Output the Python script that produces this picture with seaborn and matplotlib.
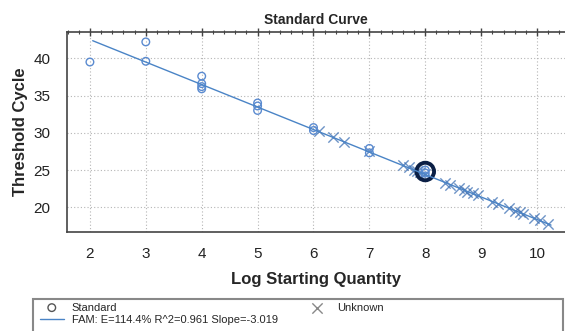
import numpy as np
import pandas as pd
import matplotlib
matplotlib.use("Agg")
import matplotlib.pyplot as plt
from matplotlib.patches import Rectangle
from matplotlib.ticker import MultipleLocator
import seaborn as sns

# standards (open circles)
std_x = [2, 3, 3, 4, 4, 4, 4, 5, 5, 5, 6, 6, 7, 7, 8, 8, 8]
std_y = [39.5, 42.2, 39.6, 37.6, 36.6, 36.2, 35.9, 34.0, 33.6, 33.0,
         30.7, 30.3, 27.9, 27.3, 25.0, 24.6, 24.2]

# unknowns (crosses)
unk_x = [6.1, 6.35, 6.55, 7.0, 7.6, 7.7, 7.8, 7.85, 7.9, 8.0, 8.35, 8.45,
         8.6, 8.7, 8.75, 8.85, 8.95, 9.2, 9.3, 9.5, 9.6, 9.7, 9.75, 9.95,
         10.05, 10.2]
unk_y = [30.2, 29.4, 28.8, 27.5, 25.7, 25.4, 25.0, 24.9, 24.7, 24.4, 23.2,
         23.0, 22.6, 22.3, 22.1, 21.9, 21.6, 20.7, 20.5, 19.9, 19.5, 19.3,
         19.1, 18.5, 18.3, 17.8]

# selected well
sel_x = [8.0]
sel_y = [24.8]

# fit
slope = -3.019
intercept = 48.55
fit_x = np.array([2.05, 10.25])
fit_label = "FAM: E=114.4% R^2=0.961 Slope=-3.019"

sns.set_style("white")
plt.rcParams["font.family"] = ["Liberation Sans", "DejaVu Sans"]

W, H = 565, 331
fig = plt.figure(figsize=(W / 100, H / 100), dpi=100)
ax = fig.add_axes([67 / W, 1 - 232 / H, (W - 67) / W, 200 / H])

blue = "#5b8bd0"
line_blue = "#4a84c6"

fit_df = pd.DataFrame({"x": fit_x, "y": intercept + slope * fit_x})
sns.lineplot(data=fit_df, x="x", y="y", ax=ax, color=line_blue, lw=1.0,
             label=fit_label)
sns.scatterplot(x=unk_x, y=unk_y, ax=ax, marker="x", color="#3c6fb4",
                s=55, linewidth=1.0, alpha=0.75, label="Unknown")
sns.scatterplot(x=std_x, y=std_y, ax=ax, marker="o", facecolor="none",
                edgecolor=blue, s=30, linewidth=1.0, label="Standard")
sns.scatterplot(x=sel_x, y=sel_y, ax=ax, marker="o", facecolor="none",
                edgecolor="#0b1f45", s=160, linewidth=2.8, legend=False)

ax.set_xlim(1.59, 10.5)
ax.set_ylim(16.68, 43.53)
ax.xaxis.set_major_locator(MultipleLocator(1))
ax.xaxis.set_minor_locator(MultipleLocator(0.2))
ax.yaxis.set_major_locator(MultipleLocator(5))
ax.yaxis.set_minor_locator(MultipleLocator(1))
ax.grid(True, which="major", color="#b5b5b5", linestyle=(0, (1, 2)), lw=0.8)
ax.tick_params(which="major", direction="inout", length=6, width=1,
               color="#444444", labelsize=11, labelcolor="#222222", top=True)
ax.tick_params(which="minor", direction="inout", length=3, width=0.8,
               color="#444444", top=True)
ax.tick_params(axis="x", which="major", pad=7.5)
ax.tick_params(axis="y", which="major", pad=9)
for side in ["left", "bottom", "top"]:
    ax.spines[side].set_color("#444444")
    ax.spines[side].set_linewidth(1.2)
ax.spines["right"].set_visible(False)

ax.set_title("Standard Curve", fontsize=10, fontweight="bold", pad=6)
ax.set_xlabel("Log Starting Quantity", fontsize=12, fontweight="bold",
              labelpad=8)
ax.set_ylabel("Threshold Cycle", fontsize=12, fontweight="bold", labelpad=4)

handles, labels = ax.get_legend_handles_labels()
if ax.get_legend():
    ax.get_legend().remove()
lookup = dict(zip(labels, handles))
order = ["Standard", fit_label, "Unknown"]
leg = fig.legend([lookup[k] for k in order], order, loc="upper left",
                 bbox_to_anchor=(34 / W, 1 - 297 / H), ncol=2, frameon=False,
                 fontsize=8, borderpad=0, handlelength=2.2, handletextpad=0.7,
                 labelspacing=0.2, columnspacing=2.45)
leg.legend_handles[0].set_edgecolor("#555555")
leg.legend_handles[2].set_color("#888888")
leg.legend_handles[2].set_alpha(1)
fig.patches.append(Rectangle((33 / W, 1 - 336 / H), (563 - 33) / W, 37 / H,
                             transform=fig.transFigure, fill=False,
                             edgecolor="#888888", lw=1.5))

fig.savefig("out.png", dpi=100)
